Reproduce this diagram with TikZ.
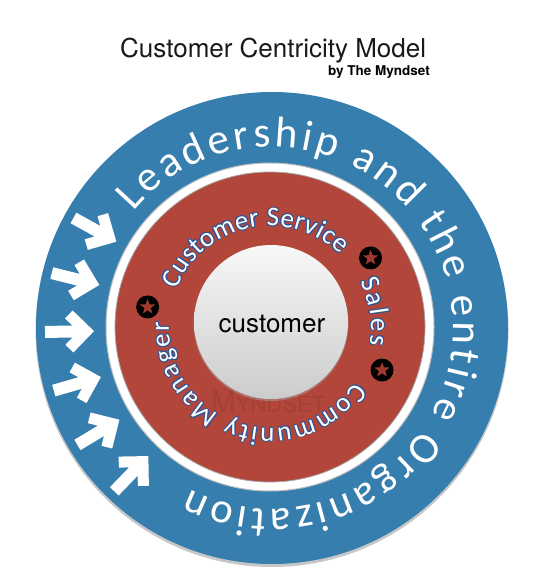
\documentclass[tikz,border=0pt]{standalone}
\usepackage{fontspec}
\setmainfont{TeX Gyre Heros}
\newfontfamily\calib{Carlito}
\usetikzlibrary{decorations.text,calc,shapes.geometric}
\definecolor{ringblue}{HTML}{367EAE}
\definecolor{ringred}{HTML}{B3463A}
\definecolor{outlineblue}{HTML}{2B5597}
\definecolor{starred}{HTML}{A0392F}
\newcommand\outerf{\calib\fontsize{43}{50}\selectfont}
\newcommand\innerf{\calib\fontsize{27}{32}\selectfont}
\newcommand\ringtext[7]{%
  \path[decorate, decoration={text along path, text={#7}, text align=fit to path, text color=#6, raise=#5}]
    ($(#1)+(#3:#2pt)$) arc[start angle=#3, end angle=#4, radius=#2pt];}
\newcommand\outlinedtext[5]{%
  \foreach \dr/\da in {1/0, -1/0, 0/0.55, 0/-0.55, 0.7/0.4, -0.7/-0.4, 0.7/-0.4, -0.7/0.4}{%
    \ringtext{#1}{#2}{#3+\da}{#4+\da}{\dr pt}{outlineblue}{#5}%
  }%
  \ringtext{#1}{#2}{#3}{#4}{0pt}{white}{#5}}
\tikzset{
  arrowglyph/.pic={\fill[white] (0,0) -- (-21,21) -- (-28.8,13.2) -- (-21.6,6) -- (-49,6) -- (-49,-6) -- (-21.6,-6) -- (-28.8,-13.2) -- (-21,-21) -- cycle;},
  starbadge/.style={circle, fill=black, minimum size=23pt, inner sep=0pt},
  starshape/.style={star, star points=5, star point ratio=2.4, fill=starred, inner sep=0pt, minimum size=16pt},
}
\begin{document}
\begin{tikzpicture}[x=1pt,y=1pt]
\useasboundingbox (0,0) rectangle (550,-585);
\coordinate (C) at (272,-328);
\coordinate (R) at (270,-327);
\coordinate (W) at (271,-322);
% title
\node[anchor=base west, inner sep=0pt, font=\fontsize{26}{30}\selectfont, text=black!90] (title) at (120,-58) {Customer Centricity Model};
\node[anchor=base east, inner sep=0pt, font=\bfseries\fontsize{13.5}{16}\selectfont] (by) at (430,-76) {by The Myndset};
% outer ring
\fill[black!22] ($(C)+(0,-2.5)$) circle[radius=236.5pt];
\fill[ringblue] (C) circle[radius=236pt];
\fill[white] (R) circle[radius=164pt];
\draw[black!25, line width=1pt] (R) circle[radius=164pt];
\fill[ringred] (R) circle[radius=155pt];
\draw[black!35, line width=0.8pt] (R) circle[radius=155pt];
% watermark
\node[inner sep=0pt, text=black, opacity=0.08, font=\rmfamily] (wm) at (268,-402) {{\fontsize{30}{30}\selectfont M}{\fontsize{22}{22}\selectfont YNDSET}};
% customer circle
\fill[black!35, opacity=0.5] ($(W)+(0,-1.5)$) circle[radius=77.5pt];
\shade[top color=white!97!black, bottom color=black!20] (W) circle[radius=77pt];
\node[anchor=base, inner sep=0pt, font=\fontsize{26}{30}\selectfont] (cust) at (272,-332) {customer};
% arrows
\foreach \a in {151,166,181,196,211,226}{
  \pic[rotate=\a+180] at ($(C)+(\a:178pt)$) {arrowglyph};
}
% outer text
\ringtext{C}{181}{140}{-117}{0pt}{white}{|\outerf|Leadership and the entire Organization}
% inner text
\outlinedtext{R}{101}{158}{46}{|\innerf|Customer Service}
\outlinedtext{R}{101}{27}{-10}{|\innerf|Sales}
\outlinedtext{R}{101}{-33}{-183}{|\innerf|Community Manager}
% stars
\node[starbadge] (s1) at ($(R)+(34.5:122pt)$) {};
\node[starshape] (t1) at (s1) {};
\node[starbadge] (s2) at ($(R)+(-21:120pt)$) {};
\node[starshape] (t2) at (s2) {};
\node[starbadge] (s3) at ($(R)+(170.7:124pt)$) {};
\node[starshape] (t3) at (s3) {};
\end{tikzpicture}
\end{document}
